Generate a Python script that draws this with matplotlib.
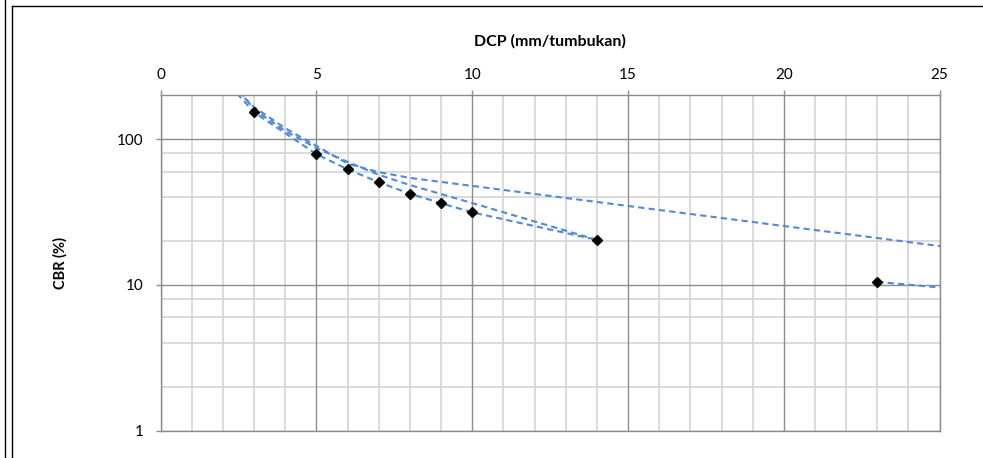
import matplotlib
matplotlib.use("Agg")
import matplotlib.pyplot as plt
from matplotlib.lines import Line2D
from matplotlib.ticker import FixedLocator, NullFormatter

# ---- data ----
dcp = [3, 5, 6, 7, 8, 9, 10, 14, 23]
cbr = [153, 79, 62.2, 50.7, 42.3, 36.4, 31.5, 20.4, 10.5]

# dashed line series (vertices; parts outside the axes are clipped)
line1_x = [2, 3, 5, 6, 7, 8, 9, 10, 14]
line1_y = [263, 153, 79, 62.2, 50.7, 42.3, 36.4, 31.5, 20.4]
line2_x = [2.45, 3, 4, 5, 6, 7, 8, 27]
line2_y = [215, 166, 119, 90, 68, 59.5, 54.3, 16.3]
line3_x = [2.55, 3, 4, 5, 6, 7, 8, 10, 14]
line3_y = [212, 160, 114, 87, 70, 57, 48.5, 36.5, 20.4]
line4_x = [23, 27]
line4_y = [10.5, 8.8]

x_ticks = [0, 5, 10, 15, 20, 25]
y_ticks = [1, 10, 100]
y_minor = [2, 4, 6, 8, 20, 40, 60, 80, 200]

W, H = 983, 458
fig = plt.figure(figsize=(W / 100, H / 100), dpi=100)
plt.rcParams['font.family'] = ['Lato', 'DejaVu Sans']

ax = fig.add_axes([160.7 / W, 1 - 430.7 / H, (939.6 - 160.7) / W, (430.7 - 95.4) / H])
ax.set_yscale('log')
ax.set_xlim(0, 25)
ax.set_ylim(1, 200)

# grid
major_c = '#8c8c8c'
minor_c = '#d4d4d4'
for xv in range(0, 26):
    if xv % 5 == 0:
        continue
    ax.axvline(xv, color=minor_c, lw=1.2, zorder=0)
for yv in y_minor:
    ax.axhline(yv, color=minor_c, lw=1.2, zorder=0)
for xv in x_ticks:
    ax.axvline(xv, color=major_c, lw=1.0, zorder=0.5)
for yv in y_ticks:
    ax.axhline(yv, color=major_c, lw=1.0, zorder=0.5)

blue = '#5089d8'
for lx, ly in [(line1_x, line1_y), (line2_x, line2_y), (line3_x, line3_y), (line4_x, line4_y)]:
    ax.plot(lx, ly, color=blue, lw=1.5, ls=(0, (3, 2)), zorder=2)

ax.plot(dcp, cbr, ls='none', marker='D', ms=5.5, color='black', zorder=3)

ax.xaxis.set_ticks_position('top')
ax.xaxis.set_label_position('top')
ax.set_xticks(x_ticks)
ax.set_xticklabels([str(v) for v in x_ticks])
ax.yaxis.set_major_locator(FixedLocator(y_ticks))
ax.set_yticklabels([str(v) for v in y_ticks])
ax.yaxis.set_minor_locator(FixedLocator(y_minor))
ax.yaxis.set_minor_formatter(NullFormatter())
ax.tick_params(axis='y', which='minor', length=0)
ax.tick_params(axis='both', which='major', length=3.6, width=1, color=major_c,
               labelsize=11, labelcolor='black', direction='out', pad=8.5)
ax.tick_params(axis='x', which='major', pad=6.0)

for s in ax.spines.values():
    s.set_color(major_c)
    s.set_linewidth(1.0)

ax.set_xlabel('DCP (mm/tumbukan)', fontsize=11.5, fontweight='bold', labelpad=16.5)
ax.set_ylabel('CBR (%)', fontsize=10.5, fontweight='bold', labelpad=36)

# outer chart frame
fig.add_artist(Line2D([12 / W, 12 / W], [0, 1 - 6 / H], color='black', lw=1.0))
fig.add_artist(Line2D([12 / W, 1], [1 - 6 / H, 1 - 6 / H], color='black', lw=1.0))
fig.add_artist(Line2D([5 / W, 5 / W], [0, 1], color='black', lw=1.0))

fig.savefig('out.png', dpi=100)
